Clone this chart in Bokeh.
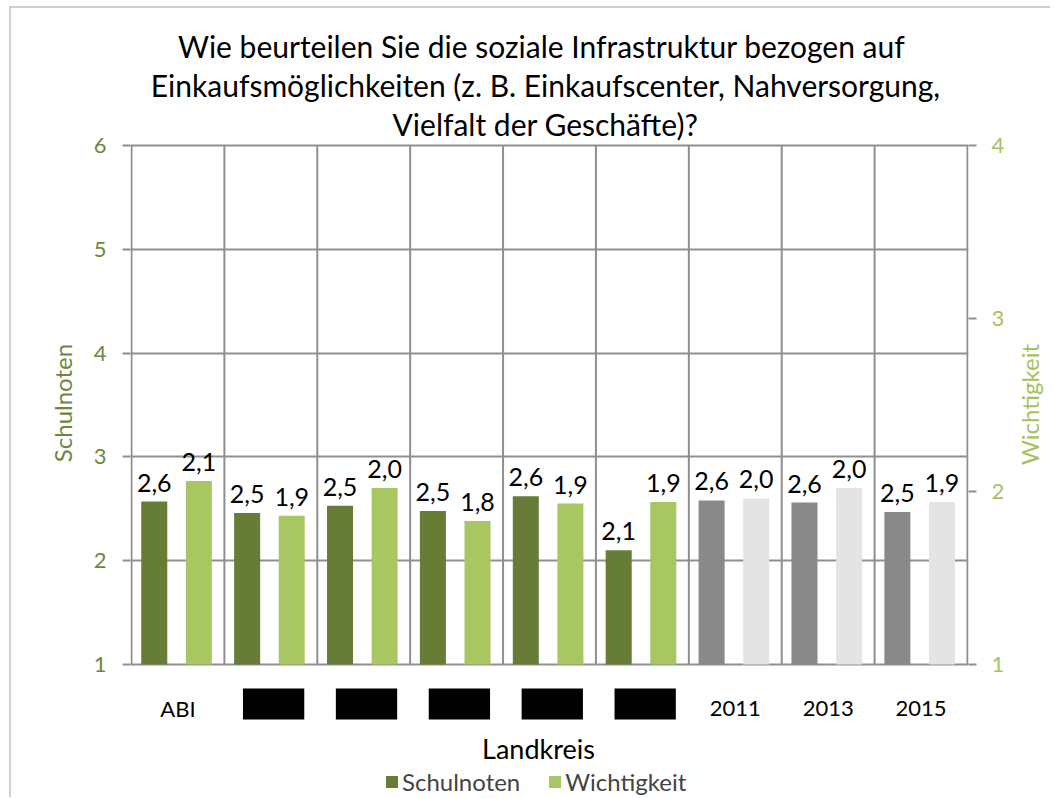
from bokeh.plotting import figure
from bokeh.layouts import row
from bokeh.models import (Range1d, LinearAxis, FixedTicker, ColumnDataSource,
                          Legend, LegendItem)
from bokeh.core.properties import value
from bokeh.transform import dodge
from bokeh.embed import file_html
from bokeh.resources import INLINE
import math

# ---------------- data ----------------
categories = ["ABI", "OP", "HEF", "NE", "LWL", "DNK", "2011", "2013", "2015"]
schulnoten = [2.57, 2.46, 2.53, 2.48, 2.62, 2.10, 2.58, 2.56, 2.47]
wichtigkeit = [2.06, 1.86, 2.02, 1.83, 1.93, 1.94, 1.96, 2.02, 1.94]
gruppe = ["Kreis", "Kreis", "Kreis", "Kreis", "Kreis", "Kreis", "Jahr", "Jahr", "Jahr"]
redacted = ["OP", "HEF", "NE", "LWL", "DNK"]
left_ticks = [1, 2, 3, 4, 5, 6]
right_ticks = [1, 2, 3, 4]
title_lines = ["Wie beurteilen Sie  die soziale Infrastruktur bezogen auf",
               "Einkaufsmöglichkeiten (z. B. Einkaufscenter, Nahversorgung,",
               "Vielfalt der Geschäfte)?"]
x_title = "Landkreis"
left_title = "Schulnoten"
right_title = "Wichtigkeit"

# ---------------- styles / layout ----------------
FONT = "Lato"
DARK_GREEN = "#677D37"
LIGHT_GREEN = "#A8C662"
DARK_GREY = "#898989"
LIGHT_GREY = "#E4E4E4"
GRID = "#8F8F8F"
LEFT_TXT = "#6C8740"
RIGHT_TXT = "#A5C25E"
BORDER = "#D0D0D0"

W, H = 1001, 789                   # main figure
W2 = 38                            # strip holding the right axis title
FL, FR = 119, 44                   # side panels (canvas px)
EDGE = 1                           # px kept free left/right of the outer grid lines
TOP_PX = 137                       # frame px above the highest tick
AXIS_PX = 519                      # px between lowest and highest tick
BELOW_PX = H - TOP_PX - AXIS_PX    # frame px below the lowest tick
FRAME_W = W - FL - FR

dark_map = {"Kreis": DARK_GREEN, "Jahr": DARK_GREY}
light_map = {"Kreis": LIGHT_GREEN, "Jahr": LIGHT_GREY}

n = len(categories)
xs = [i + 1 for i in range(n)]
cat_px = (FRAME_W - 2 * EDGE) / n
fmt = lambda v: f"{v:.1f}".replace(".", ",")

src = ColumnDataSource(dict(
    x=xs, cat=categories, s=schulnoten, w=wichtigkeit,
    sl=[fmt(v) for v in schulnoten], wl=[fmt(v) for v in wichtigkeit],
    sc=[dark_map[g] for g in gruppe], wc=[light_map[g] for g in gruppe],
))

l_lo, l_hi = left_ticks[0], left_ticks[-1]
r_lo, r_hi = right_ticks[0], right_ticks[-1]
l_px = AXIS_PX / (l_hi - l_lo)
r_px = AXIS_PX / (r_hi - r_lo)

x0 = 0.5 - EDGE / cat_px
p = figure(width=W, height=H, output_backend="svg", toolbar_location=None,
           x_range=Range1d(x0, n + 0.5 + EDGE / cat_px),
           y_range=Range1d(l_lo - BELOW_PX / l_px, l_hi + TOP_PX / l_px),
           min_border_left=FL, min_border_right=FR,
           min_border_top=0, min_border_bottom=0)
p.extra_y_ranges = {"right": Range1d(r_lo - BELOW_PX / r_px, r_hi + TOP_PX / r_px)}
p.outline_line_color = None
p.background_fill_color = "white"
p.border_fill_color = "white"
p.xaxis.visible = False

# title (inside the frame, above the plot area)
title_x = x0 + (534 - FL) / cat_px
for i, t in enumerate(title_lines):
    p.text(x=[title_x], y=[l_hi], text=[t], text_align="center",
           text_baseline="alphabetic", y_offset=-100 + 39 * i,
           text_font=value(FONT), text_font_size="30px", text_color="#000000")

# grid
p.xgrid.visible = False
p.ygrid.ticker = FixedTicker(ticks=left_ticks)
p.ygrid.grid_line_color = GRID
p.ygrid.grid_line_width = 2
bounds = [i + 0.5 for i in range(n + 1)]
p.segment(x0=bounds, y0=[l_lo] * len(bounds), x1=bounds,
          y1=[l_hi] * len(bounds), line_color=GRID, line_width=2)

# bars
bw = 0.28
r_s = p.vbar(x=dodge("x", -0.255), top="s", bottom=l_lo, width=bw,
             source=src, fill_color="sc", line_color=None)
r_w = p.vbar(x=dodge("x", 0.225), top="w", bottom=r_lo, width=bw,
             source=src, fill_color="wc", line_color=None, y_range_name="right")

# value labels
p.text(x=dodge("x", -0.255), y="s", text="sl", source=src, text_align="center",
       text_baseline="alphabetic", y_offset=-19, text_font=value(FONT),
       text_font_size="25px", text_color="#000000")
p.text(x=dodge("x", 0.225), y="w", text="wl", source=src, text_align="center",
       text_baseline="alphabetic", y_offset=-19, text_font=value(FONT),
       text_font_size="25px", text_color="#000000", y_range_name="right")

# category labels under the value axis
p.text(x="x", y=l_lo, text="cat", source=src, text_align="center",
       text_baseline="alphabetic", y_offset=44, text_font=value(FONT),
       text_font_size="22px", text_color="#000000")

# redaction boxes over some category labels
rx = [xs[categories.index(c)] + 0.03 for c in redacted]
p.rect(x=rx, y=[l_lo - 39.5 / l_px] * len(rx), width=0.66, height=31,
       height_units="screen", fill_color="black", line_color=None)

# x axis title
p.text(x=[x0 + (527 - FL) / cat_px], y=[l_lo], text=[x_title], text_align="center",
       text_baseline="alphabetic", y_offset=84, text_font=value(FONT),
       text_font_size="27px", text_color="#000000")

# left axis
ya = p.yaxis[0]
ya.ticker = FixedTicker(ticks=left_ticks)
ya.axis_line_color = None
ya.major_tick_line_color = GRID
ya.major_tick_line_width = 2
ya.major_tick_out = 8
ya.major_tick_in = 0
ya.minor_tick_line_color = None
ya.major_label_standoff = 16
ya.major_label_text_font = FONT
ya.major_label_text_font_size = "22px"
ya.major_label_text_color = LEFT_TXT
ya.axis_label = left_title
ya.axis_label_text_font = FONT
ya.axis_label_text_font_size = "24px"
ya.axis_label_text_font_style = "normal"
ya.axis_label_text_color = LEFT_TXT
ya.axis_label_standoff = 14

# right axis
ra = LinearAxis(y_range_name="right", ticker=FixedTicker(ticks=right_ticks))
ra.axis_line_color = None
ra.major_tick_line_color = GRID
ra.major_tick_line_width = 2
ra.major_tick_out = 8
ra.major_tick_in = 0
ra.minor_tick_line_color = None
ra.major_label_standoff = 15
ra.major_label_text_font = FONT
ra.major_label_text_font_size = "22px"
ra.major_label_text_color = RIGHT_TXT
p.add_layout(ra, "right")

legend = Legend(items=[LegendItem(label="Schulnoten", renderers=[r_s]),
                       LegendItem(label="Wichtigkeit", renderers=[r_w])],
                orientation="horizontal", location=(254, 1),
                label_text_font=FONT, label_text_font_size="24px",
                glyph_width=15, glyph_height=15, label_standoff=3, spacing=27,
                border_line_color=None, background_fill_alpha=0, padding=0, margin=0)
p.add_layout(legend)

# right axis title in a narrow strip next to the chart (reads bottom-to-top)
p2 = figure(width=W2, height=H, output_backend="svg", toolbar_location=None,
            x_range=Range1d(0, 1), y_range=Range1d(0, 1),
            min_border_left=0, min_border_right=0, min_border_top=0, min_border_bottom=0)
p2.axis.visible = False
p2.grid.visible = False
p2.outline_line_color = None
p2.border_fill_color = "white"
p2.text(x=[0.44], y=[1 - 396 / H], text=[right_title], angle=math.pi / 2,
        text_align="center", text_baseline="middle", text_font=value(FONT),
        text_font_size="24px", text_color=RIGHT_TXT)

layout = row(p, p2, spacing=0,
             styles={"margin-left": "9px", "margin-top": "6px",
                     "border-left": f"2px solid {BORDER}",
                     "border-top": f"2px solid {BORDER}"})

open("out.html", "w").write(file_html(layout, INLINE))
